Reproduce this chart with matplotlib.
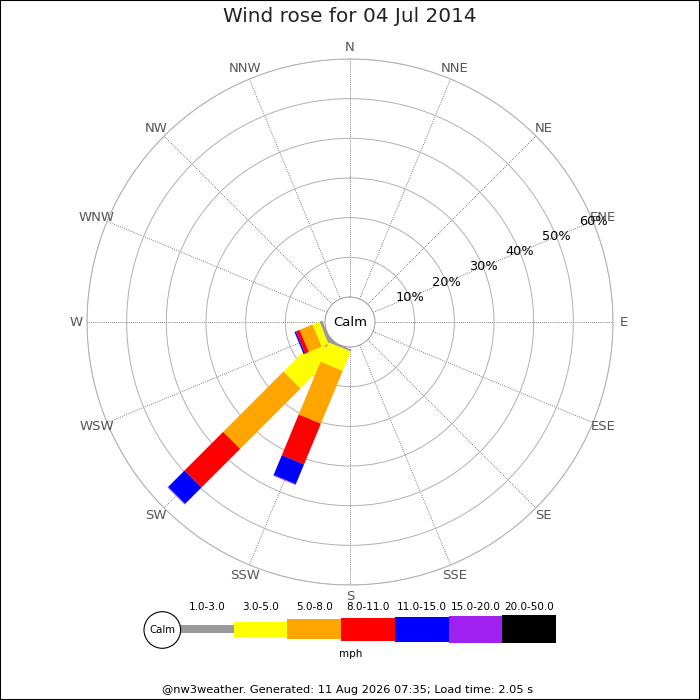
import numpy as np
import matplotlib
matplotlib.use("Agg")
import matplotlib.pyplot as plt
from matplotlib.patches import Circle, Rectangle

# directions (clockwise from N) and speed bands
directions = ["N", "NNE", "NE", "ENE", "E", "ESE", "SE", "SSE",
              "S", "SSW", "SW", "WSW", "W", "WNW", "NW", "NNW"]
bands = ["1.0-3.0", "3.0-5.0", "5.0-8.0", "8.0-11.0", "11.0-15.0", "15.0-20.0", "20.0-50.0"]
band_colors = ["#999999", "#ffff00", "#ffa500", "#ff0000", "#0000ff", "#a020f0", "#000000"]

# frequency (%) per band for the directions that had wind
freq_ssw = [0.5, 5.3, 14.4, 11.1, 5.4, 0.2, 0.0]
freq_sw = [2.5, 11.9, 21.5, 13.8, 5.8, 0.2, 0.0]
freq_wsw = [0.8, 1.9, 3.5, 1.0, 0.4, 0.0, 0.0]

rings = [10, 20, 30, 40, 50, 60]
title = "Wind rose for 04 Jul 2014"
footer = "@nw3weather. Generated: 11 Aug 2026 07:35; Load time: 2.05 s"

freq = np.zeros((len(directions), len(bands)))
freq[directions.index("SSW")] = freq_ssw
freq[directions.index("SW")] = freq_sw
freq[directions.index("WSW")] = freq_wsw

theta = np.deg2rad(np.arange(len(directions)) * 22.5)

fig = plt.figure(figsize=(7, 7), dpi=100)
ax = fig.add_axes([87 / 700, 115 / 700, 526 / 700, 526 / 700], projection="polar")
ax.set_theta_zero_location("N")
ax.set_theta_direction(-1)
ax.set_ylim(0, 60)
ax.set_rorigin(-6.3)

ax.set_xticks(theta)
ax.set_xticklabels([])
ax.set_yticks(rings)
ax.set_yticklabels([])
ax.xaxis.grid(True, color="#555555", linestyle=(0, (1, 1.5)), linewidth=0.6)
ax.yaxis.grid(True, color="#b0b0b0", linestyle="-", linewidth=0.7)
ax.spines["polar"].set_color("#b0b0b0")
ax.spines["polar"].set_linewidth(0.7)
ax.spines["inner"].set_color("#999999")
ax.spines["inner"].set_linewidth(0.7)
ax.tick_params(length=0)

# bars: stacked per band, each band drawn over the previous
base = np.zeros(len(directions))
for b in range(len(bands)):
    for d in range(len(directions)):
        v = freq[d, b]
        if v > 0:
            ax.plot([theta[d], theta[d]], [base[d], base[d] + v], color=band_colors[b],
                    linewidth=17.3, solid_capstyle="butt", zorder=3)
    base += freq[:, b]

# compass labels
for t, name in zip(theta, directions):
    ax.text(t, 62.8, name, ha="center", va="center", fontsize=9.5, color="#555555", clip_on=False)

# percentage labels along ENE
for r in rings:
    ax.text(np.deg2rad(67.5), r, f"{r}%", ha="center", va="center", fontsize=9.3, color="black", zorder=4)

ax.text(0.5, 0.5, "Calm", transform=ax.transAxes, ha="center", va="center", fontsize=9.5)

fig.text(0.5, 1 - 17 / 700, title, ha="center", va="center", fontsize=14.4, color="#222222")

# legend
leg = fig.add_axes([180 / 700, (700 - 644) / 700, 376 / 700, 30 / 700])
leg.set_xlim(0, len(bands))
leg.set_ylim(-15, 15)
leg.axis("off")
leg_heights = [7.7, 15, 20.7, 23, 25, 27, 28.3]
xs = np.arange(len(bands)) + 0.5
leg.bar(xs, leg_heights, width=1.0, bottom=[-h / 2 for h in leg_heights], color=band_colors, linewidth=0)
for x, lab in zip(xs, bands):
    fig.text((180 + x * 53.7) / 700, 1 - 607 / 700, lab, ha="center", va="center", fontsize=7.5)
fig.text(351 / 700, 1 - 654 / 700, "mph", ha="center", va="center", fontsize=7.5)
fig.add_artist(Circle((162.3 / 700, 1 - 630 / 700), 18.3 / 700, transform=fig.transFigure,
                      facecolor="white", edgecolor="black", linewidth=0.8))
fig.text(162.3 / 700, 1 - 630 / 700, "Calm", ha="center", va="center", fontsize=7.3)

fig.text(0.497, 1 - 690 / 700, footer, ha="center", va="center", fontsize=8.2, color="black")

fig.add_artist(Rectangle((0, 0), 1, 1, transform=fig.transFigure, fill=False,
                         edgecolor="black", linewidth=1.5))

fig.savefig("out.png", dpi=100)
